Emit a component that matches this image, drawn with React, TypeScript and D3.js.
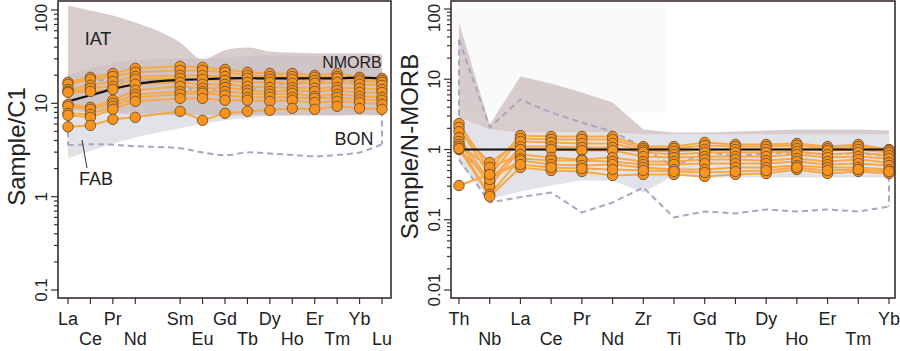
import React from 'react';
import * as d3 from 'd3';

// chondrite-normalised REE (left) and N-MORB normalised spider (right)
const REE_AXIS = ['La', 'Ce', 'Pr', 'Nd', 'Pm', 'Sm', 'Eu', 'Gd', 'Tb', 'Dy', 'Ho', 'Er', 'Tm', 'Yb', 'Lu'];
const REE = ['La', 'Ce', 'Pr', 'Nd', 'Sm', 'Eu', 'Gd', 'Tb', 'Dy', 'Ho', 'Er', 'Tm', 'Yb', 'Lu'];
const REE_TOP_ROW = ['La', 'Pr', 'Sm', 'Gd', 'Dy', 'Er', 'Yb'];
const SPIDER = ['Th', 'Nb', 'La', 'Ce', 'Pr', 'Nd', 'Zr', 'Ti', 'Gd', 'Tb', 'Dy', 'Ho', 'Er', 'Tm', 'Yb'];
const SPIDER_TOP_ROW = ['Th', 'La', 'Pr', 'Zr', 'Gd', 'Dy', 'Er', 'Yb'];

const c1Samples = [
  [16.8, 19.0, 20.9, 23.7, 24.9, 24.3, 23.1, 21.5, 20.9, 20.9, 19.9, 20.9, 19.0, 18.5],
  [16.0, 18.1, 19.4, 21.5, 22.5, 22.5, 21.5, 19.9, 19.4, 19.4, 19.0, 19.4, 18.1, 17.6],
  [14.1, 15.6, 17.2, 19.4, 19.9, 19.9, 19.4, 18.5, 18.1, 18.1, 17.6, 18.5, 17.2, 16.8],
  [13.4, 14.5, 15.2, 18.1, 18.5, 18.1, 17.6, 16.8, 16.8, 16.4, 16.4, 16.8, 16.0, 15.6],
  [13.1, 13.4, 14.1, 16.0, 16.8, 16.0, 16.0, 15.2, 14.8, 14.8, 14.5, 14.8, 14.5, 14.1],
  [9.75, 9.06, 10.8, 13.8, 15.2, 14.5, 14.8, 13.8, 13.4, 13.8, 13.4, 13.8, 13.1, 13.1],
  [9.29, 8.63, 10.0, 12.5, 13.4, 13.4, 13.4, 12.8, 12.5, 12.8, 11.9, 12.5, 11.9, 11.6],
  [7.82, 7.63, 9.29, 11.6, 12.5, 12.8, 12.2, 11.6, 11.6, 11.6, 11.3, 11.6, 11.0, 10.8],
  [7.44, 7.08, 8.63, 10.5, 11.3, 11.3, 10.8, 10.8, 10.5, 10.8, 10.2, 10.5, 10.2, 9.75],
  [5.6, 5.8, 6.74, 7.08, 8.21, 6.58, 7.82, 8.21, 8.42, 8.84, 8.63, 9.29, 8.84, 8.63],
];
const nmorbC1 = [10.5, 12.2, 14.2, 16.0, 17.8, 18.1, 18.5, 18.6, 18.5, 18.5, 18.6, 18.5, 18.9, 18.5];
const iatC1Upper = [111.7, 98.8, 87.3, 73.5, 44.9, 29.6, 37.0, 39.7, 36.0, 35.0, 34.3, 34.3, 34.3, 33.4];
const iatC1Lower = [8.42, 8.0, 7.82, 7.63, 7.44, 7.44, 7.44, 7.44, 7.44, 7.44, 7.44, 7.44, 7.44, 7.44];
const fabC1Upper = [19.9, 23.7, 26.7, 28.9, 30.2, 30.2, 31.0, 31.9, 32.6, 32.6, 32.6, 32.6, 32.6, 31.9];
const fabC1Lower = [2.58, 3.1, 3.7, 4.3, 5.4, 6.0, 6.6, 6.9, 7.3, 7.4, 7.4, 7.4, 7.6, 7.6];
const bonC1Upper = [17.2, 17.6, 17.6, 17.2, 16.8, 12.2, 16.4, 14.1, 15.6, 16.4, 16.8, 16.8, 17.6, 17.6];
const bonC1Lower = [3.55, 3.64, 3.6, 3.47, 3.3, 2.98, 2.78, 2.98, 2.9, 2.8, 2.71, 2.8, 2.98, 3.64];

const nmorbSamples = [
  [2.34, 0.519, 1.58, 1.53, 1.53, 1.53, 1.10, 1.10, 1.26, 1.18, 1.18, 1.22, 1.10, 1.18, 1.0],
  [2.06, 0.427, 1.43, 1.39, 1.39, 1.39, 1.03, 1.03, 1.14, 1.10, 1.10, 1.14, 1.03, 1.10, 0.968],
  [1.80, 0.653, 1.30, 1.26, 1.22, 1.22, 0.968, 0.937, 1.0, 1.0, 1.0, 1.03, 0.968, 1.0, 0.906],
  [1.48, 0.350, 1.10, 1.10, 1.07, 1.07, 0.906, 0.849, 0.906, 0.906, 0.906, 0.937, 0.849, 0.906, 0.822],
  [1.30, 0.298, 1.0, 1.0, 0.968, 0.968, 0.795, 0.769, 0.795, 0.795, 0.795, 0.849, 0.769, 0.795, 0.745],
  [1.18, 0.555, 0.849, 0.769, 0.721, 0.769, 0.675, 0.675, 0.721, 0.721, 0.698, 0.745, 0.675, 0.721, 0.653],
  [1.10, 0.229, 0.745, 0.698, 0.698, 0.675, 0.612, 0.612, 0.632, 0.632, 0.632, 0.675, 0.612, 0.632, 0.592],
  [1.0, 0.374, 0.698, 0.612, 0.592, 0.612, 0.555, 0.519, 0.519, 0.555, 0.555, 0.592, 0.555, 0.555, 0.519],
  [1.03, 0.214, 0.555, 0.503, 0.487, 0.427, 0.441, 0.441, 0.413, 0.441, 0.456, 0.519, 0.456, 0.487, 0.456],
  [0.307, 0.441, 0.612, 0.555, 0.537, 0.519, 0.503, 0.487, 0.471, 0.487, 0.503, 0.555, 0.503, 0.519, 0.487],
];
const nmorbN = [1, 1, 1, 1, 1, 1, 1, 1, 1, 1, 1, 1, 1, 1, 1];
const iatNUpper = [64, 2.27, 10.9, 8.7, 6.5, 4.66, 1.93, 1.74, 1.74, 1.8, 1.86, 1.93, 1.93, 1.93, 1.86];
const iatNLower = [2.85, 1.93, 1.74, 1.74, 1.74, 1.74, 1.63, 1.63, 1.63, 1.63, 1.63, 1.63, 1.63, 1.63, 1.63];
const fabNUpper = [2.85, 1.93, 1.74, 1.74, 1.74, 1.74, 1.63, 1.63, 1.63, 1.63, 1.63, 1.63, 1.63, 1.63, 1.63];
const fabNLower = [0.65, 0.194, 0.252, 0.307, 0.362, 0.362, 0.244, 0.427, 0.40, 0.40, 0.40, 0.40, 0.40, 0.40, 0.40];
const bonNUpper = [36.7, 2.06, 5.14, 3.36, 2.42, 1.8, 1.07, 0.555, 0.94, 0.8, 0.88, 0.9, 0.85, 0.88, 0.82];
const bonNLower = [0.72, 0.176, 0.21, 0.244, 0.127, 0.176, 0.288, 0.108, 0.131, 0.123, 0.14, 0.131, 0.14, 0.131, 0.154];

const FONT = "'Liberation Sans', Arial, Helvetica, sans-serif";
const FRAME = '#3a2f2b';
const DOT = '#f7941d';
const DOT_EDGE = '#7d5530';
const LINE = '#f8a847';
const DASH = '#a9a6c0';
const IAT_FILL = 'rgb(200,182,183)';
const FAB_FILL = '#e2e3e9';

const W = 900;
const H = 351;

function Panel(props) {
  const {
    axisNames, names, topRow, xRange, yDomain, yRange, frame, title, titleX,
    samples, nmorb, smooth, iatUpper, iatLower, fabUpper, fabLower, bonUpper, bonLower, background, labels,
  } = props;
  const [fx0, fy0, fx1, fy1] = frame;

  const x = d3.scalePoint().domain(axisNames).range(xRange);
  const y = d3.scaleLog().domain(yDomain).range(yRange);
  const px = (i) => x(names[i]);

  const line = d3.line().x((d, i) => px(i)).y((d) => y(d));
  const smoothLine = d3.line().x((d, i) => px(i)).y((d) => y(d)).curve(smooth ? d3.curveMonotoneX : d3.curveLinear);
  const dashLine = d3.line().x((d, i) => px(i)).y((d) => y(d)).curve(smooth ? d3.curveCatmullRom : d3.curveLinear);
  const field = (upper, lower) =>
    d3.area().x((d, i) => px(i)).y0((d, i) => y(lower[i])).y1((d) => y(d)).curve(smooth ? d3.curveMonotoneX : d3.curveLinear)(upper);

  const last = names.length - 1;
  const bonEnds =
    d3.line()([[px(0), y(bonUpper[0])], [px(0), y(bonLower[0])]]) +
    d3.line()([[px(last), y(bonUpper[last])], [px(last), y(bonLower[last])]]);

  // log ticks
  const [lo, hi] = yDomain;
  const eLo = Math.round(Math.log10(lo));
  const eHi = Math.round(Math.log10(hi));
  const majors = [];
  const minors = [];
  for (let e = eLo; e <= eHi; e++) {
    const base = Math.pow(10, e);
    majors.push(base);
    if (e < eHi) for (let k = 2; k <= 9; k++) minors.push(k * base);
  }
  const fmt = (v) => (v >= 1 ? String(v) : String(+v.toFixed(4)));

  return (
    <g>
      {background}
      <path d={field(fabUpper, fabLower)} fill={FAB_FILL} />
      <path d={field(iatUpper, iatLower)} fill={IAT_FILL} fillOpacity={0.7} />
      <g fill="none" stroke={DASH} strokeWidth={2} strokeDasharray="6 4">
        <path d={dashLine(bonUpper)} />
        <path d={dashLine(bonLower)} />
        <path d={bonEnds} />
      </g>
      {samples.map((s, i) => (
        <path key={i} d={line(s)} fill="none" stroke={LINE} strokeWidth={2} />
      ))}
      <path d={smoothLine(nmorb)} fill="none" stroke="#111" strokeWidth={2.2} />
      {samples.map((s, i) => (
        <g key={i}>
          {s.map((v, j) => (
            <circle key={j} cx={px(j)} cy={y(v)} r={5.2} fill={DOT} stroke={DOT_EDGE} strokeWidth={1} />
          ))}
        </g>
      ))}
      {labels}

      {/* frame */}
      <rect x={fx0} y={fy0} width={fx1 - fx0} height={fy1 - fy0} fill="none" stroke={FRAME} strokeWidth={1.6} />

      {/* y axis */}
      <g stroke={FRAME} strokeWidth={1.2}>
        {majors.map((v) => (
          <line key={v} x1={fx0 - 7} x2={fx0} y1={y(v)} y2={y(v)} />
        ))}
        {minors.map((v) => (
          <line key={v} x1={fx0 - 4} x2={fx0} y1={y(v)} y2={y(v)} />
        ))}
      </g>
      <g fontFamily={FONT} fontSize={17} fill="#222" textAnchor="middle">
        {majors.map((v) => {
          const ty = Math.max(y(v), 18);
          return (
            <text key={v} x={fx0 - 17} y={ty} dy="0.35em" transform={`rotate(-90, ${fx0 - 17}, ${ty})`}>
              {fmt(v)}
            </text>
          );
        })}
      </g>
      <text
        x={titleX}
        y={(fy0 + fy1) / 2 - 3}
        dy="0.35em"
        transform={`rotate(-90, ${titleX}, ${(fy0 + fy1) / 2 - 3})`}
        fontFamily={FONT}
        fontSize={24}
        fill="#222"
        textAnchor="middle"
      >
        {title}
      </text>

      {/* x axis */}
      <g stroke={FRAME} strokeWidth={1.2}>
        {names.map((n) => (
          <line key={n} x1={x(n)} x2={x(n)} y1={fy1} y2={fy1 + 6} />
        ))}
      </g>
      <g fontFamily={FONT} fontSize={18} fill="#222" textAnchor="middle">
        {names.map((n) => (
          <text key={n} x={x(n)} y={topRow.includes(n) ? fy1 + 27 : fy1 + 47}>
            {n}
          </text>
        ))}
      </g>
    </g>
  );
}

export default function App() {
  const leftLabels = (
    <g fontFamily={FONT} fill="#222">
      <text x={98} y={45} fontSize={18} textAnchor="middle">IAT</text>
      <text x={352} y={68} fontSize={16} textAnchor="middle">NMORB</text>
      <text x={354} y={145} fontSize={18} textAnchor="middle">BON</text>
      <text x={96} y={185} fontSize={18} textAnchor="middle">FAB</text>
      <line x1={82} y1={140} x2={87} y2={168} stroke="#333" strokeWidth={1} />
    </g>
  );
  return (
    <svg width={W} height={H} style={{ position: 'absolute', left: 0, top: 0, background: '#fff' }}>
      <rect x={0} y={0} width={W} height={H} fill="#fff" />
      <Panel
        axisNames={REE_AXIS}
        names={REE}
        topRow={REE_TOP_ROW}
        xRange={[68, 382]}
        yDomain={[0.1, 100]}
        yRange={[290, 10]}
        frame={[58, 1, 391, 298]}
        title="Sample/C1"
        titleX={17}
        samples={c1Samples}
        nmorb={nmorbC1}
        smooth={true}
        iatUpper={iatC1Upper}
        iatLower={iatC1Lower}
        fabUpper={fabC1Upper}
        fabLower={fabC1Lower}
        bonUpper={bonC1Upper}
        bonLower={bonC1Lower}
        labels={leftLabels}
      />
      <Panel
        axisNames={SPIDER}
        names={SPIDER}
        topRow={SPIDER_TOP_ROW}
        xRange={[459, 889]}
        yDomain={[0.01, 100]}
        yRange={[290, 9]}
        frame={[451, 1, 895, 298]}
        title="Sample/N-MORB"
        titleX={410}
        samples={nmorbSamples}
        nmorb={nmorbN}
        smooth={false}
        iatUpper={iatNUpper}
        iatLower={iatNLower}
        fabUpper={fabNUpper}
        fabLower={fabNLower}
        bonUpper={bonNUpper}
        bonLower={bonNLower}
        background={<rect x={452} y={2} width={213} height={111} fill="#fafafb" />}
      />
    </svg>
  );
}
